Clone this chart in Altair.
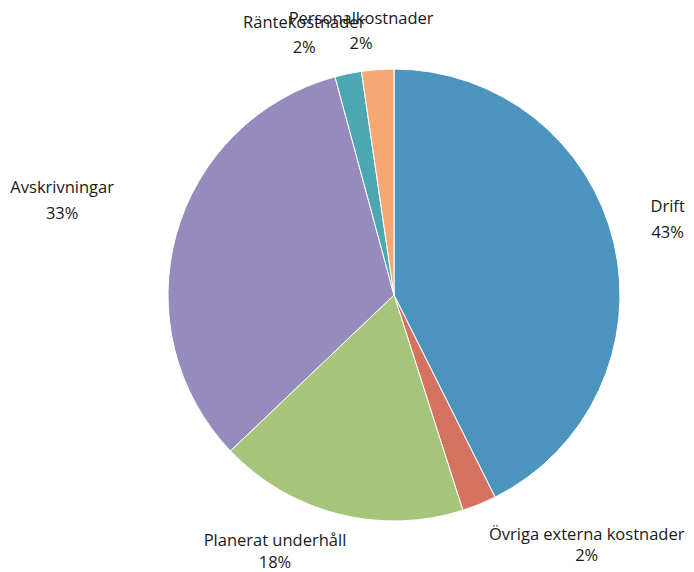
import altair as alt
import pandas as pd

categories = ["Drift", "Övriga externa kostnader", "Planerat underhåll",
              "Avskrivningar", "Räntekostnader", "Personalkostnader"]
values = [42.6, 2.45, 17.8, 32.9, 1.9, 2.3]
colors = ["#4C95BE", "#D47460", "#A6C57A", "#958BBD", "#4DA7B2", "#F5A872"]

# label nudges (pixels) relative to the default radial label position, and line heights
LABEL_R = 275
NUDGE = {
    "Drift": (6, -25, 26),
    "Övriga externa kostnader": (89, -15, 21),
    "Planerat underhåll": (-51, -20, 22),
    "Avskrivningar": (-67, -33, 26),
    "Räntekostnader": (-34, -3, 25),
    "Personalkostnader": (-13, -2, 25),
}

df = pd.DataFrame({"cat": categories, "value": values, "idx": list(range(len(categories)))})
total = sum(values)

color_scale = alt.Scale(domain=categories, range=colors)

base = alt.Chart(df)

pie = base.mark_arc(outerRadius=226, stroke="white", strokeWidth=1).encode(
    theta=alt.Theta("value:Q", stack=True, scale=alt.Scale(domain=[0, total])),
    color=alt.Color("cat:N", scale=color_scale, legend=None, sort=None),
    order=alt.Order("idx:Q"),
)

label_base = base.transform_window(
    cum="sum(value)", sort=[alt.SortField("idx")], frame=[None, 0]
).transform_joinaggregate(
    tot="sum(value)"
).transform_calculate(
    mid="datum.cum - datum.value / 2",
    label="datum.cat + '\\n' + format(datum.value / datum.tot * 100, '.0f') + '%'",
)

layers = [pie]
for c in categories:
    dx, dy, lh = NUDGE[c]
    layers.append(
        label_base.transform_filter(alt.datum.cat == c).mark_text(
            radius=LABEL_R, dx=dx, dy=dy, lineBreak="\n", lineHeight=lh,
            font="Open Sans", fontSize=16.5, color="#1a1a1a",
            align="center", baseline="middle",
        ).encode(
            theta=alt.Theta("mid:Q", stack=None, scale=alt.Scale(domain=[0, total])),
            text="label:N",
        )
    )

chart = alt.layer(*layers).properties(
    width=584, height=550,
    autosize=alt.AutoSizeParams(type="none"),
    padding={"left": 94, "top": 12, "right": 0, "bottom": 0},
    background="white",
).configure_view(stroke=None)

chart.save("out.html", embed_options={"renderer": "svg", "actions": False})
